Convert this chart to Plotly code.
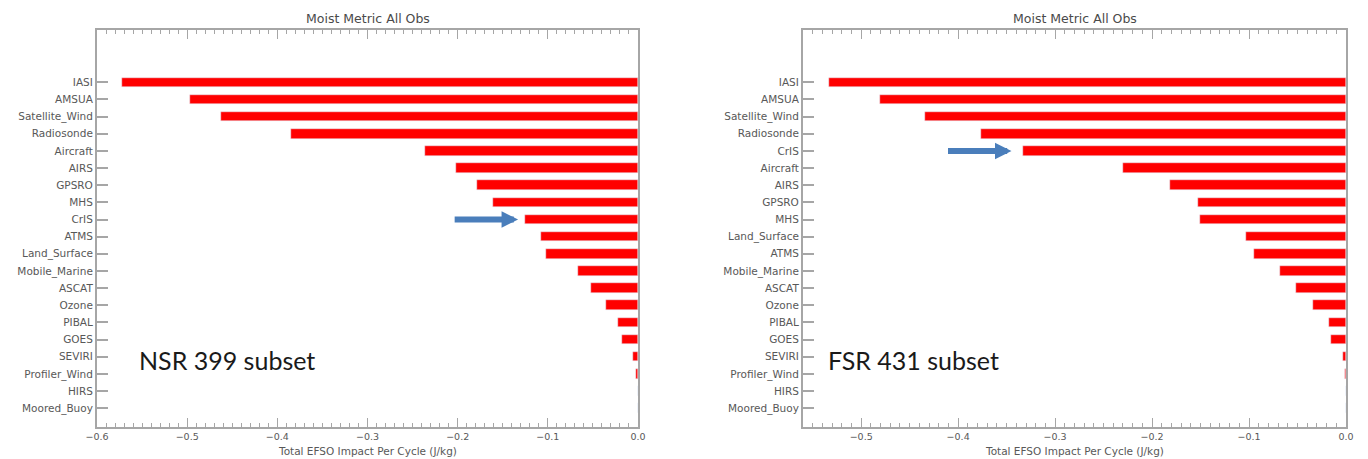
import plotly.graph_objects as go

# left panel: NSR 399 subset
nsr_obs = ["IASI", "AMSUA", "Satellite_Wind", "Radiosonde", "Aircraft", "AIRS",
           "GPSRO", "MHS", "CrIS", "ATMS", "Land_Surface", "Mobile_Marine",
           "ASCAT", "Ozone", "PIBAL", "GOES", "SEVIRI", "Profiler_Wind",
           "HIRS", "Moored_Buoy"]
nsr_impact = [-0.572, -0.497, -0.462, -0.385, -0.236, -0.202, -0.179, -0.161,
              -0.125, -0.108, -0.102, -0.066, -0.052, -0.035, -0.022, -0.018,
              -0.005, -0.002, -0.0003, -0.0002]

# right panel: FSR 431 subset
fsr_obs = ["IASI", "AMSUA", "Satellite_Wind", "Radiosonde", "CrIS", "Aircraft",
           "AIRS", "GPSRO", "MHS", "Land_Surface", "ATMS", "Mobile_Marine",
           "ASCAT", "Ozone", "PIBAL", "GOES", "SEVIRI", "Profiler_Wind",
           "HIRS", "Moored_Buoy"]
fsr_impact = [-0.533, -0.481, -0.434, -0.376, -0.333, -0.230, -0.182, -0.153,
              -0.151, -0.103, -0.095, -0.068, -0.052, -0.034, -0.018, -0.015,
              -0.0035, -0.001, -0.0003, -0.0002]

panel_title = "Moist Metric All Obs"
x_title = "Total EFSO Impact Per Cycle (J/kg)"
labels = ["NSR 399 subset", "FSR 431 subset"]

FONT = "DejaVu Sans, Verdana, sans-serif"
AXIS_GRAY = "#a6a6a6"
TEXT_GRAY = "#585858"

# the page body adds an 8px margin: shift everything up/left by it and
# let the figure run down to the bottom edge of the window
PAD = 8
W, H = 1368 - 2 * PAD, 459 - PAD


def px(x):
    return (x - PAD) / W


def py(y):
    return (H - (y - PAD)) / H


fig = go.Figure()
fig.add_trace(go.Bar(x=nsr_impact, y=nsr_obs, orientation="h", width=0.56,
                     marker_color="#ff0000", xaxis="x", yaxis="y"))
fig.add_trace(go.Bar(x=fsr_impact, y=fsr_obs, orientation="h", width=0.56,
                     marker_color="#ff0000", xaxis="x2", yaxis="y2"))

xdoms = [[px(97), px(638)], [px(803), px(1346)]]
ydom = [py(427), py(30)]
xranges = [[-0.6, 0.0], [-0.56, 0.0]]


def xaxis_style(rng, dom, anchor):
    return dict(domain=dom, range=rng, anchor=anchor, automargin=False,
                showgrid=False, zeroline=False,
                showline=True, linecolor=AXIS_GRAY, linewidth=2, mirror="ticks",
                ticks="inside", ticklen=9, tickcolor=AXIS_GRAY, tickwidth=1,
                dtick=0.1, tick0=0, tickformat=".1f",
                tickfont=dict(family=FONT, size=9.5, color=TEXT_GRAY),
                minor=dict(ticks="inside", ticklen=4, dtick=0.01, tickcolor=AXIS_GRAY))


def yaxis_style(cats, anchor):
    return dict(domain=ydom, anchor=anchor, type="category", automargin=False,
                categoryorder="array", categoryarray=cats,
                range=[len(cats) - 1 + 1.1, -3.05], showgrid=False, zeroline=False,
                showline=True, linecolor=AXIS_GRAY, linewidth=2, mirror=True,
                ticks="inside", ticklen=11, tickcolor=AXIS_GRAY, tickwidth=2,
                tickfont=dict(family=FONT, size=10.5, color=TEXT_GRAY))


fig.update_layout(
    width=W, height=H,
    margin=dict(l=0, r=0, t=0, b=0, autoexpand=False),
    plot_bgcolor="white", paper_bgcolor="white",
    showlegend=False, bargap=0,
    xaxis=xaxis_style(xranges[0], xdoms[0], "y"),
    yaxis=yaxis_style(nsr_obs, "x"),
    xaxis2=xaxis_style(xranges[1], xdoms[1], "y2"),
    yaxis2=yaxis_style(fsr_obs, "x2"),
)

for dom in xdoms:
    xc = (dom[0] + dom[1]) / 2
    # panel title
    fig.add_annotation(x=xc, y=py(18), xref="paper", yref="paper",
                       xanchor="center", yanchor="middle",
                       text=panel_title, showarrow=False,
                       font=dict(family=FONT, size=12.5, color="#4a4a4a"))
    # x axis title
    fig.add_annotation(x=xc, y=py(451), xref="paper", yref="paper",
                       xanchor="center", yanchor="middle",
                       text=x_title, showarrow=False,
                       font=dict(family=FONT, size=10.5, color=TEXT_GRAY))

# subset labels
for xc, txt in zip([px(227), px(913)], labels):
    fig.add_annotation(x=xc, y=py(360), xref="paper", yref="paper",
                       xanchor="center", yanchor="middle",
                       text=txt, showarrow=False,
                       font=dict(family="Lato, Open Sans, sans-serif", size=25, color="#1a1a1a"))

# blue arrows pointing at CrIS
arrows = [("x", "y", -0.205, -0.133), ("x2", "y2", -0.412, -0.345)]
for xr, yr, tail, tip in arrows:
    fig.add_annotation(x=tip, y="CrIS", ax=tail, ay="CrIS", xref=xr, yref=yr,
                       axref=xr, ayref=yr, showarrow=True, text="",
                       arrowhead=2, arrowsize=0.55, arrowwidth=6, arrowcolor="#4a7ebb")

fig.write_html("out.html")
